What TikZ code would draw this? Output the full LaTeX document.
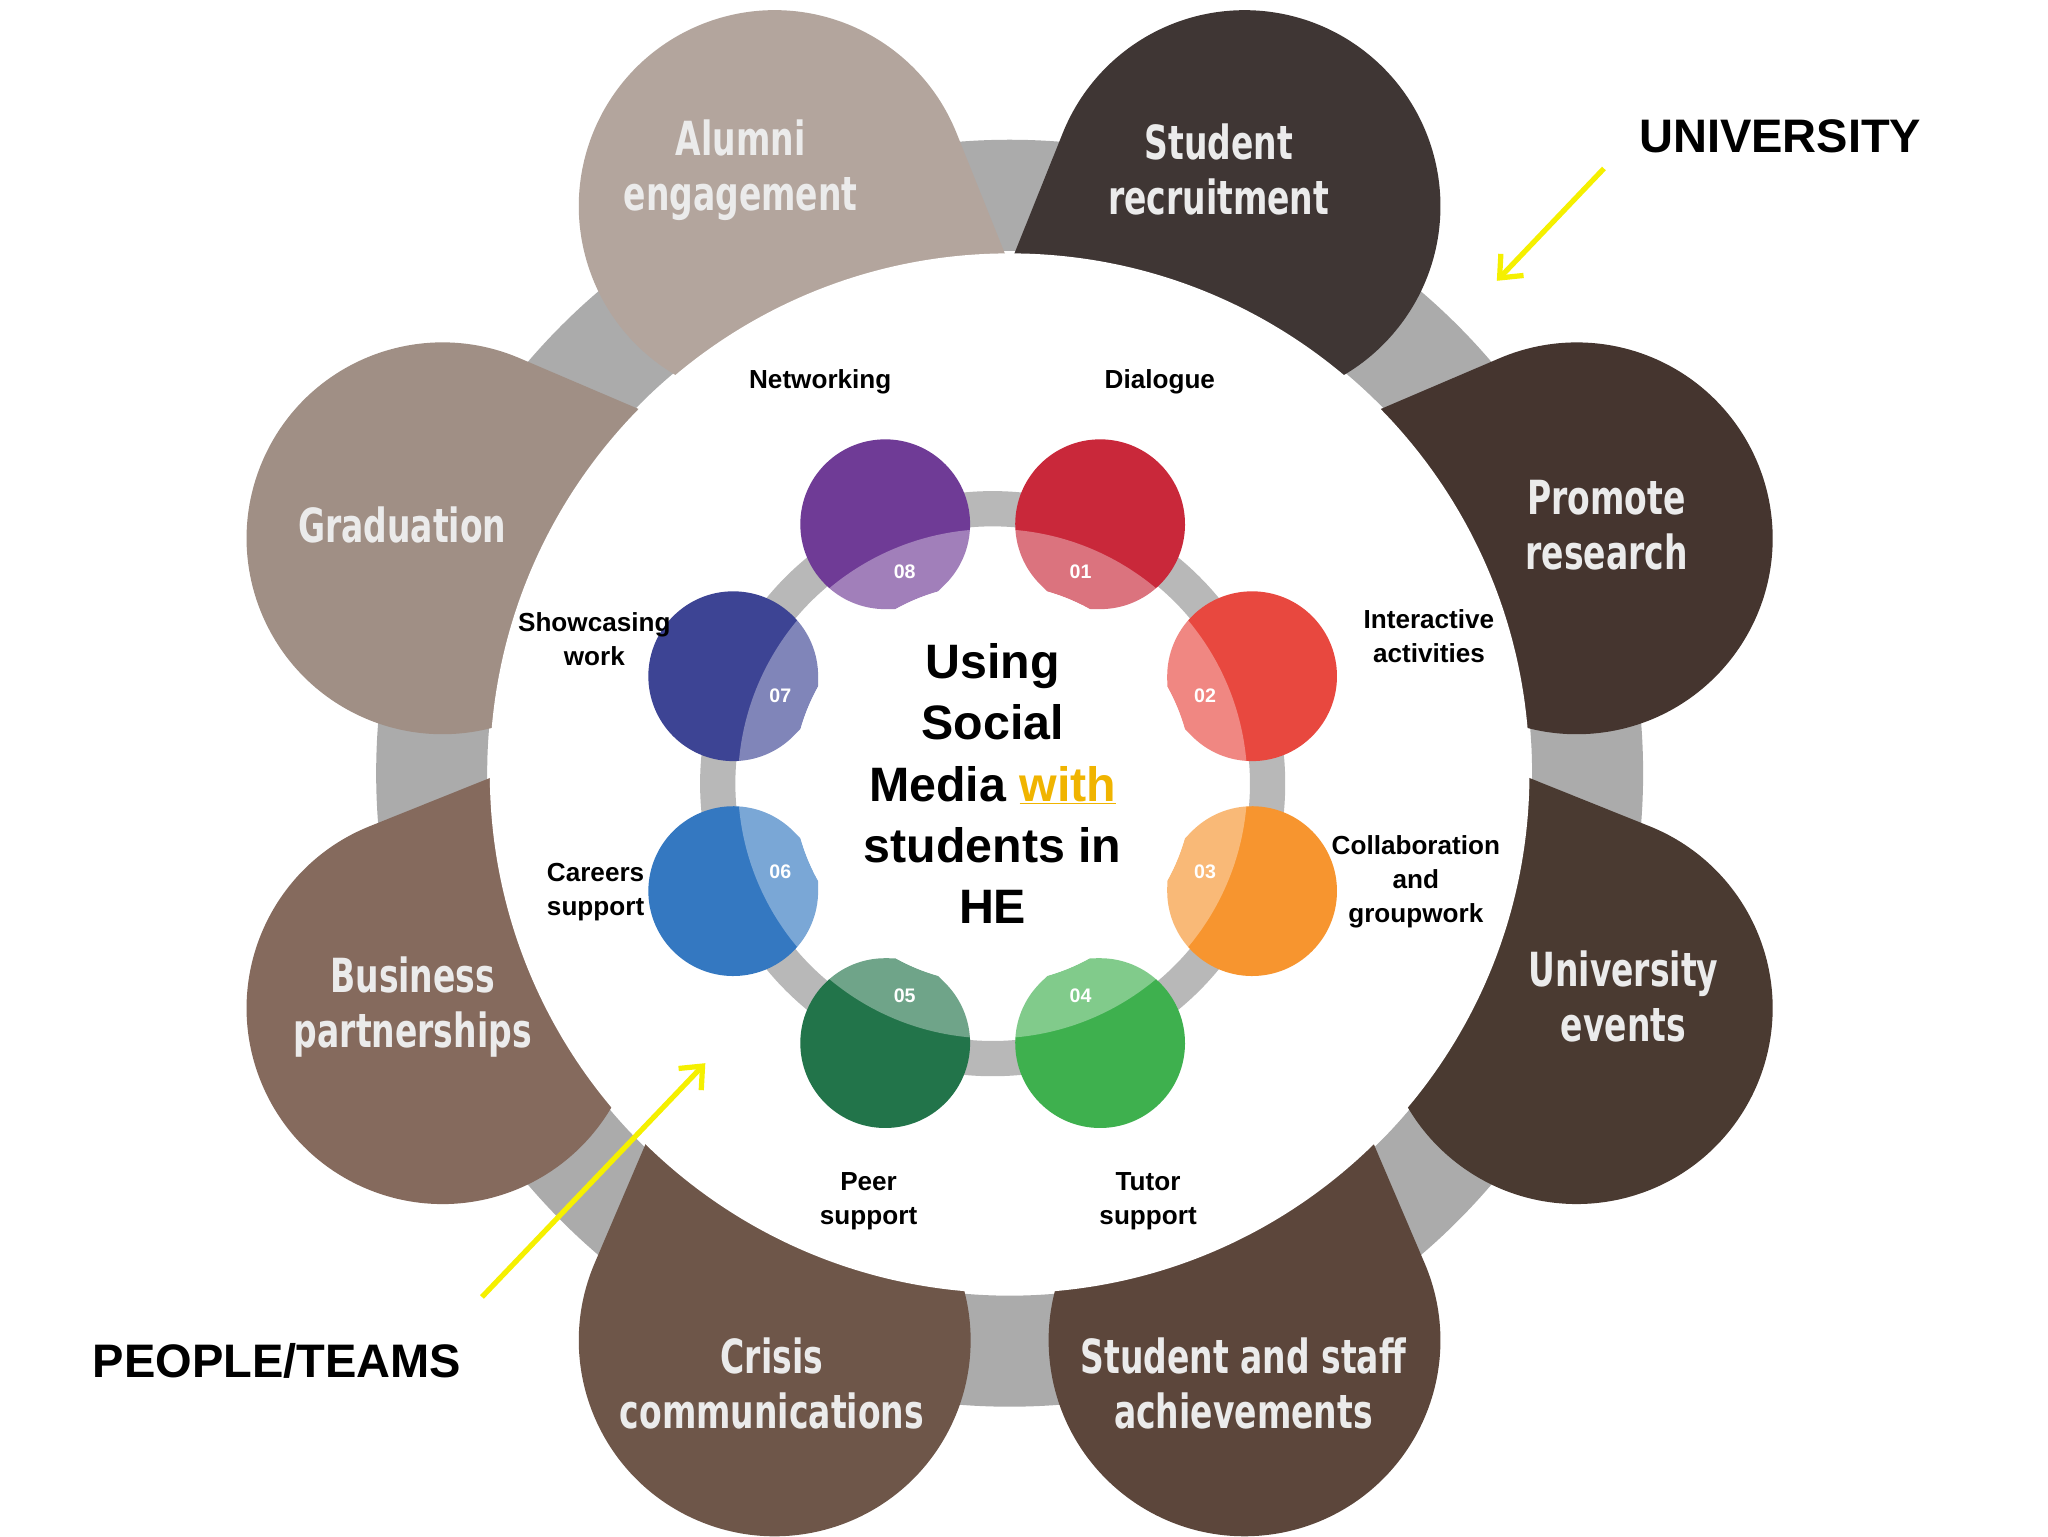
\documentclass[tikz,border=0pt]{standalone}
\usepackage{fontspec}
\setmainfont{Liberation Sans}
\newfontfamily\impactish{DejaVu Sans Condensed}
\usetikzlibrary{arrows.meta}
\definecolor{ring}{HTML}{ABABAB}
\definecolor{cA}{HTML}{B3A59D}
\definecolor{cB}{HTML}{3F3634}
\definecolor{cC}{HTML}{45352F}
\definecolor{cD}{HTML}{4A3A31}
\definecolor{cE}{HTML}{5C463B}
\definecolor{cF}{HTML}{6E5649}
\definecolor{cG}{HTML}{856A5D}
\definecolor{cH}{HTML}{A08F85}
\definecolor{p1}{HTML}{C9283A}
\definecolor{p2}{HTML}{E8483F}
\definecolor{p3}{HTML}{F7952F}
\definecolor{p4}{HTML}{3EB04E}
\definecolor{p5}{HTML}{22744A}
\definecolor{p6}{HTML}{3478C1}
\definecolor{p7}{HTML}{3D4494}
\definecolor{p8}{HTML}{6F3B96}
\definecolor{ylw}{HTML}{F0B400}
\definecolor{arr}{HTML}{F5F000}
\tikzset{
 big/.style={text=white!92!black,font=\impactish\fontsize{36}{42}\selectfont\bfseries,align=center,xscale=0.78,transform shape},
 small/.style={font=\fontsize{20}{26}\selectfont\bfseries,align=center},
 num/.style={text=white,font=\fontsize{15}{15}\selectfont\bfseries},
 yarrow/.style={arr,line width=4pt,-{Straight Barb[length=14pt,width=24pt]}},
 side/.style={font=\fontsize{36}{40}\selectfont\bfseries}
}
\begin{document}
\begin{tikzpicture}[x=1pt,y=1pt]
\useasboundingbox (0,0) rectangle (1568,1176);
\fill[white] (0,0) rectangle (1568,1176);
\begin{scope}[shift={(773,584)}]
 \fill[ring, even odd rule] (0,0) circle[radius=485] (0,0) circle[radius=400];
 \foreach \a/\d/\c in {112.5/-15/cA,157.5/30/cH,-157.5/75/cG,-112.5/120/cF,-67.5/60/cE,-22.5/105/cD,22.5/150/cC,67.5/195/cB}{
   \begin{scope}[shift={(\a:470)}]
   \pgfmathsetmacro\sa{\d+36.87}
   \fill[\c] (\d:187.5) -- (\sa:150) arc[start angle=\sa, delta angle=286.26, radius=150] -- cycle;
   \end{scope}
 }
 \fill[white] (0,0) circle[radius=398];
\end{scope}
\node[big] (alumni) at (567,1046) {Alumni\\engagement};
\node[big] (recruit) at (933,1046) {Student\\recruitment};
\node[big] (research) at (1230,774) {Promote\\research};
\node[big] (events) at (1243,413) {University\\events};
\node[big] (achieve) at (952,117) {Student and staff\\achievements};
\node[big] (crisis) at (591,117) {Crisis\\communications};
\node[big] (business) at (316,405) {Business\\partnerships};
\node[big] (grad) at (308,774) {Graduation};
\begin{scope}[shift={(760,576)}]
 \fill[ring!85, even odd rule] (0,0) circle[radius=224] (0,0) circle[radius=197];
 \begin{scope}[even odd rule]
 \clip (0,0) circle[radius=320] (0,0) circle[radius=153];
 \foreach \a/\c in {67.5/p1,22.5/p2,-22.5/p3,-67.5/p4,-112.5/p5,-157.5/p6,157.5/p7,112.5/p8}{
   \begin{scope}[shift={(\a:215)}]
   \pgfmathsetmacro\d{\a+180}
   \pgfmathsetmacro\sa{\d+22}
   \fill[\c] (\d:70) -- (\sa:65) arc[start angle=\sa, delta angle=316, radius=65] -- cycle;
   \end{scope}
 }
 \end{scope}
 \fill[white, opacity=0.35, even odd rule] (0,0) circle[radius=195] (0,0) circle[radius=145];
 \draw[white, line width=1.5pt] (0,0) circle[radius=152];
 \fill[white] (0,0) circle[radius=143];
 \foreach \a/\n in {67.5/01,22.5/02,-22.5/03,-67.5/04,-112.5/05,-157.5/06,157.5/07,112.5/08}
   \node[num] at (\a:176) {\n};
 \node[font=\fontsize{37}{47}\selectfont\bfseries, align=center] (title) at (0,0)
  {Using\\Social\\Media {\color{ylw}\underline{with}}\\students in\\HE};
\end{scope}
\node[small] (dialogue) at (888,884) {Dialogue};
\node[small] (network) at (628,884) {Networking};
\node[small] (inter) at (1094,689) {Interactive\\activities};
\node[small] (collab) at (1084,501) {Collaboration\\and\\groupwork};
\node[small] (tutor) at (879,256) {Tutor\\support};
\node[small] (peer) at (665,256) {Peer\\support};
\node[small] (careers) at (456,493) {Careers\\support};
\node[small] (show) at (455,687) {Showcasing\\work};
\node[side] (univ) at (1363,1072) {UNIVERSITY};
\node[side] (people) at (212,134) {PEOPLE/TEAMS};
\coordinate (u1) at (1228,1047);
\coordinate (u2) at (1146,961);
\coordinate (q1) at (369,183);
\coordinate (q2) at (540,362);
\draw[yarrow] (u1) -- (u2);
\draw[yarrow] (q1) -- (q2);
\end{tikzpicture}
\end{document}
